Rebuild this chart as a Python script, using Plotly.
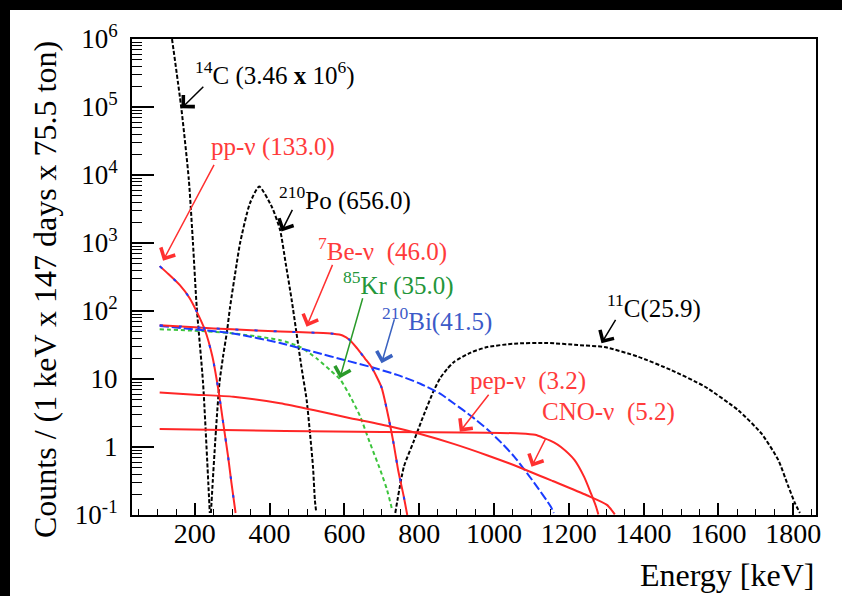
import plotly.graph_objects as go

# ---------------- data (energy in keV, counts per keV) ----------------
c14_E = [139, 164, 184, 195, 205, 222, 236, 240]
c14_y = [1.0e6, 9.5e4, 8.5e3, 1.0e3, 115, 8.7, 0.30, 0.107]

po210_E = [243, 248, 253, 259, 266, 276, 286, 294, 312, 321, 347, 372, 406, 428, 443,
           459, 472, 485, 499, 508, 516, 521, 524]
po210_y = [0.107, 0.316, 0.89, 2.82, 8.9, 22.4, 50, 112, 501, 1000, 3800, 6760, 3390, 1550, 501,
           145, 46.8, 15.1, 4.9, 1.58, 0.51, 0.166, 0.117]

pp_E = [106, 130, 160, 185, 205, 227, 247, 263, 276, 289, 298, 309]
pp_y = [457, 347, 240, 158, 98, 52.5, 21.4, 6.9, 2.24, 0.72, 0.295, 0.107]

be7_E = [106, 200, 300, 428, 520, 570, 595, 615, 634, 655, 672, 699, 715, 731, 744, 758, 768]
be7_y = [61.7, 57.5, 53.7, 50.1, 47.9, 46.2, 43.7, 37.2, 28.2, 20.0, 15.1, 7.59, 3.24, 1.17, 0.447, 0.195, 0.1]

kr85_E = [106, 200, 303, 428, 482, 526, 562, 589, 616, 642, 669, 696, 714, 728]
kr85_y = [53.7, 51.3, 46.8, 37.2, 29.5, 20.0, 13.5, 9.8, 5.5, 2.82, 1.12, 0.457, 0.234, 0.117]

bi210_E = [106, 200, 302, 428, 517, 607, 669, 741, 803, 857, 893, 940, 982, 1020, 1054, 1108, 1152, 1160]
bi210_y = [60.3, 53.7, 46.8, 33.9, 25.1, 18.6, 15.1, 11.5, 8.51, 6.03, 4.37, 2.82, 1.82, 1.15, 0.724,
           0.295, 0.132, 0.107]

cno_E = [106, 200, 303, 428, 517, 607, 723, 803, 892, 983, 1069, 1157, 1248, 1302, 1323]
cno_y = [6.31, 5.89, 5.50, 4.40, 3.50, 2.72, 2.0, 1.55, 1.11, 0.75, 0.50, 0.316, 0.195, 0.141, 0.102]

pep_E = [106, 441, 700, 982, 1071, 1110, 1134, 1160, 1179, 1215, 1241, 1259, 1273, 1279]
pep_y = [1.84, 1.72, 1.66, 1.62, 1.58, 1.51, 1.35, 1.17, 1.0, 0.646, 0.363, 0.209, 0.132, 0.102]

c11_E = [736, 759, 785, 812, 839, 857, 875, 893, 938, 982, 1054, 1143, 1224, 1295, 1384, 1474, 1563,
         1653, 1715, 1760, 1787, 1805, 1818]
c11_y = [0.107, 0.513, 1.2, 2.95, 6.76, 10.5, 14.1, 17.8, 24.5, 29.5, 33.1, 33.9, 31.6, 29.5, 21.4, 13.5, 7.76,
         3.47, 1.58, 0.646, 0.263, 0.148, 0.107]

x_ticks = [200, 400, 600, 800, 1000, 1200, 1400, 1600, 1800]
x_ticktext = [str(v) for v in x_ticks]
y_ticks = [0.1, 1, 10, 100, 1e3, 1e4, 1e5, 1e6]
y_ticktext = ["10<sup>-1</sup>", "1", "10", "10<sup>2</sup>", "10<sup>3</sup>",
              "10<sup>4</sup>", "10<sup>5</sup>", "10<sup>6</sup>"]

# labels: text, x (keV), log10(y), colour
labels = [
    ("<sup>14</sup>C (3.46 <b>x</b> 10<sup>6</sup>)", 194.7, 5.49, "black"),
    ("pp-ν (133.0)", 237.4, 4.41, "#ff3b3b"),
    ("<sup>210</sup>Po (656.0)", 419, 3.65, "black"),
    ("<sup>7</sup>Be-ν  (46.0)", 525, 2.91, "#ff3b3b"),
    ("<sup>85</sup>Kr (35.0)", 590, 2.40, "#23963a"),
    ("<sup>210</sup>Bi(41.5)", 695, 1.88, "#3c5ac8"),
    ("<sup>11</sup>C(25.9)", 1296, 2.06, "black"),
    ("pep-ν  (3.2)", 930, 0.97, "#ff3b3b"),
    ("CNO-ν  (5.2)", 1122, 0.515, "#ff3b3b"),
]
# arrows: tail x, tail log10 y, head x, head log10 y, colour
arrows = [
    (226.7, 5.32, 164.4, 4.98, "black"),
    (253.5, 4.17, 115.0, 2.74, "#ff3030"),
    (462.8, 3.51, 431.8, 3.17, "black"),
    (569.8, 2.70, 498.7, 1.77, "#ff3030"),
    (650.0, 2.21, 587.7, 1.01, "#2a9a2a"),
    (734.8, 1.90, 699.2, 1.23, "#3a62c0"),
    (1327.5, 1.89, 1287.4, 1.525, "black"),
    (988.8, 0.79, 908.6, 0.225, "#ff3030"),
    (1140.4, 0.15, 1100.3, -0.29, "#ff3030"),
]

RED = "#ff2626"
fig = go.Figure()

def add(x, y, color, dash="solid", width=2):
    fig.add_trace(go.Scatter(x=x, y=y, mode="lines",
                             line=dict(color=color, width=width, dash=dash,
                                       shape="spline", smoothing=0.6),
                             hoverinfo="skip"))

add(c14_E, c14_y, "black", "4px,2px")
add(po210_E, po210_y, "black", "4px,2px")
add(c11_E, c11_y, "black", "4px,2px")
add(kr85_E, kr85_y, "#3cc43c", "4px,3px")
add(bi210_E, bi210_y, "#1a3cff", "9px,3px")
add(cno_E, cno_y, RED)
add(pep_E, pep_y, RED)
add(pp_E, pp_y, RED)
add(be7_E, be7_y, RED)
add(pp_E, pp_y, "#1a3cff", "3px,16px", 2)
add(be7_E, be7_y, "#1a3cff", "3px,16px", 2)

annotations = []
for t, x, ly, col in labels:
    annotations.append(dict(text=t, x=x, y=ly, xref="x", yref="y", showarrow=False,
                            xanchor="left", yanchor="middle",
                            font=dict(family="Liberation Serif", size=25, color=col)))
for tx, ty, hx, hy, col in arrows:
    annotations.append(dict(text="", x=hx, y=hy, ax=tx, ay=ty, xref="x", yref="y",
                            axref="x", ayref="y", showarrow=True, arrowhead=4,
                            arrowsize=2.1, arrowwidth=1.5, arrowcolor=col))

# axis titles
L, R, T, B, W, H = 132, 26, 39, 81, 842, 596
pw, ph = W - L - R, H - T - B
def px(xp):
    return (xp - L) / pw
def py(yp):
    return (H - B - yp) / ph

annotations.append(dict(text="Counts / (1 keV x 147 days x 75.5 ton)", xref="paper", yref="paper",
                        x=px(45), y=py(290), textangle=-90, showarrow=False,
                        xanchor="center", yanchor="middle",
                        font=dict(family="Liberation Serif", size=32, color="black")))
annotations.append(dict(text="Energy [keV]", xref="paper", yref="paper",
                        x=1.0, y=py(575), showarrow=False, xanchor="right", yanchor="middle",
                        font=dict(family="Liberation Serif", size=32, color="black")))

shapes = [
    dict(type="rect", xref="paper", yref="paper", x0=px(0), x1=px(10), y0=py(H), y1=py(0),
         fillcolor="black", line=dict(width=0), layer="above"),
    dict(type="rect", xref="paper", yref="paper", x0=px(0), x1=px(W), y0=py(10), y1=py(0),
         fillcolor="black", line=dict(width=0), layer="above"),
]

minor_y = [m * 10 ** k for k in range(-1, 6) for m in range(2, 10)]

fig.update_layout(
    width=W, height=H, autosize=False,
    margin=dict(l=L, r=R, t=T, b=B),
    paper_bgcolor="white", plot_bgcolor="white",
    showlegend=False,
    font=dict(family="Liberation Serif", color="black"),
    annotations=annotations, shapes=shapes,
    xaxis=dict(range=[32, 1861], tickmode="array", tickvals=x_ticks, ticktext=x_ticktext,
               ticks="inside", ticklen=12, tickwidth=1.5, tickcolor="black",
               showline=True, linewidth=2, linecolor="black", mirror=True,
               showgrid=False, zeroline=False, tickfont=dict(size=28),
               ticklabelstandoff=-8,
               minor=dict(ticks="inside", ticklen=6, tickwidth=1.2, tickcolor="black",
                          tickmode="linear", tick0=0, dtick=50, showgrid=False)),
    yaxis=dict(type="log", range=[-1, 6], tickmode="array", tickvals=y_ticks, ticktext=y_ticktext,
               ticks="inside", ticklen=22, tickwidth=1.5, tickcolor="black",
               showline=True, linewidth=2, linecolor="black", mirror=True,
               showgrid=False, zeroline=False, tickfont=dict(size=27),
               ticklabelstandoff=7,
               minor=dict(ticks="inside", ticklen=10, tickwidth=1.2, tickcolor="black",
                          tickmode="array", tickvals=minor_y, showgrid=False)),
)

fig.write_html("out.html", config={"displayModeBar": False},
               post_script="document.body.style.margin='0';document.body.style.overflow='hidden';")
